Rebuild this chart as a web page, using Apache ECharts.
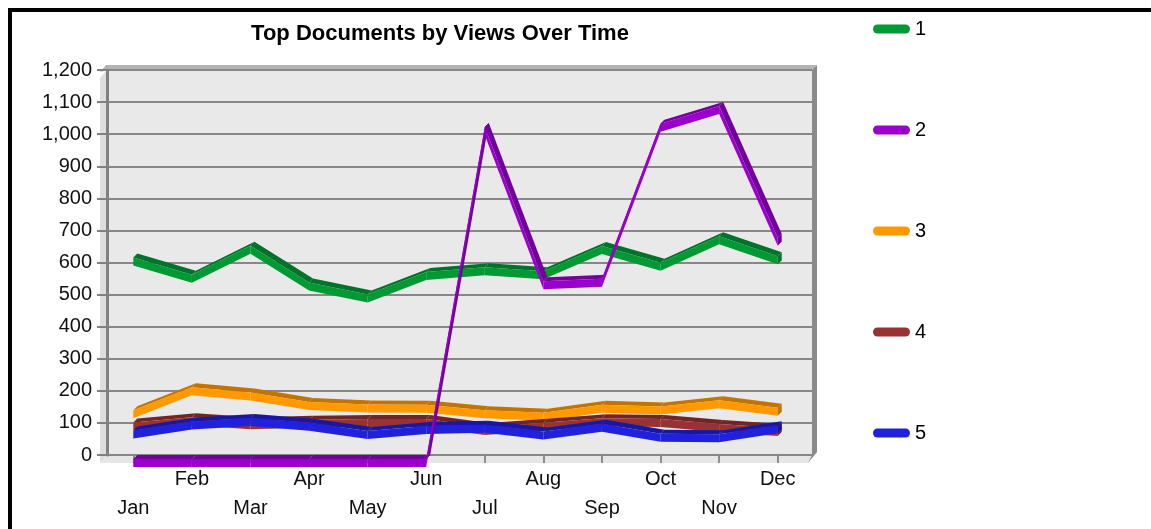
<!DOCTYPE html>
<html>
<head>
<meta charset="utf-8">
<script src="https://cdn.jsdelivr.net/npm/echarts@6/dist/echarts.min.js"></script>
<style>
  html, body { margin: 0; padding: 0; background: #ffffff; }
  #chart { width: 1151px; height: 529px; }
</style>
</head>
<body>
<div id="chart"></div>
<script>
// Monthly views for the five most viewed documents
const months = ['Jan', 'Feb', 'Mar', 'Apr', 'May', 'Jun', 'Jul', 'Aug', 'Sep', 'Oct', 'Nov', 'Dec'];
const doc1 = [628, 574, 665, 550, 513, 583, 598, 585, 664, 612, 694, 632];
const doc2 = [0, 0, 0, 0, 0, 0, 1035, 554, 562, 1045, 1100, 690];
const doc3 = [152, 224, 207, 178, 170, 169, 152, 144, 169, 164, 183, 160];
const doc4 = [114, 130, 118, 122, 125, 125, 100, 113, 127, 125, 109, 97];
const doc5 = [89, 117, 128, 113, 87, 103, 107, 86, 110, 79, 77, 105];
const seriesNames = ['1', '2', '3', '4', '5'];
const yTicks = { min: 0, max: 1200, interval: 100 };

const FONT = '"Liberation Sans", Arial, sans-serif';

// Colours: [front face, top face]
const palette = {
  '1': ['#009933', '#00732a'],
  '2': ['#9900cc', '#72009a'],
  '3': ['#ff9900', '#c27400'],
  '4': ['#993333', '#732525'],
  '5': ['#2020dd', '#1717a3']
};

// 3D ribbon geometry
const HALF = 4;      // half height of the front face
const DEPTH = 4;     // depth offset of the top face (right / up)

// Back wall (gridlines) and front plane (where the ribbons sit)
const back = { left: 107, top: 70, right: 1151 - 812, bottom: 529 - 455 };
const front = { left: 104, top: 78, right: 1151 - 807, bottom: 529 - 463 };

function ribbon(values, name, z) {
  const [faceColor, topColor] = palette[name];
  const n = values.length;
  return {
    name: name,
    type: 'custom',
    xAxisIndex: 1,
    yAxisIndex: 1,
    z: z,
    itemStyle: { color: faceColor },
    data: values.map((v, i) => [i, v]),
    encode: { x: 0, y: 1 },
    renderItem: function (params, api) {
      const i = params.dataIndex;
      const p0 = api.coord([i, values[i]]);
      const children = [];
      if (i < n - 1) {
        const p1 = api.coord([i + 1, values[i + 1]]);
        children.push({
          type: 'polygon',
          shape: { points: [
            [p0[0], p0[1] - HALF], [p1[0], p1[1] - HALF],
            [p1[0] + DEPTH, p1[1] - HALF - DEPTH], [p0[0] + DEPTH, p0[1] - HALF - DEPTH]
          ] },
          style: { fill: topColor }
        });
        children.push({
          type: 'polygon',
          shape: { points: [
            [p0[0], p0[1] - HALF], [p1[0], p1[1] - HALF],
            [p1[0], p1[1] + HALF], [p0[0], p0[1] + HALF]
          ] },
          style: { fill: faceColor }
        });
      } else {
        // end cap on the last month
        children.push({
          type: 'polygon',
          shape: { points: [
            [p0[0], p0[1] - HALF], [p0[0] + DEPTH, p0[1] - HALF - DEPTH],
            [p0[0] + DEPTH, p0[1] + HALF - DEPTH], [p0[0], p0[1] + HALF]
          ] },
          style: { fill: topColor }
        });
      }
      return { type: 'group', children: children };
    }
  };
}

const chart = echarts.init(document.getElementById('chart'), null, { renderer: 'canvas' });

const wallX0 = front.left - 4, wallX1 = back.left;
const floorY0 = 529 - back.bottom, floorY1 = 529 - front.bottom;
const backRight = 1151 - back.right;

chart.setOption({
  backgroundColor: '#ffffff',
  animation: false,
  title: {
    text: 'Top Documents by Views Over Time',
    left: 440,
    top: 23,
    textAlign: 'center',
    padding: 0,
    textStyle: { fontFamily: FONT, fontSize: 22, fontWeight: 'bold', color: '#000000' }
  },
  legend: {
    orient: 'vertical',
    left: 873,
    top: 18,
    padding: 0,
    itemWidth: 37,
    itemHeight: 9,
    itemGap: 79,
    icon: 'path://M4.5,0 L32.5,0 A4.5,4.5 0 0 1 32.5,9 L4.5,9 A4.5,4.5 0 0 1 4.5,0 Z',
    data: seriesNames,
    selectedMode: false,
    textStyle: { fontFamily: FONT, fontSize: 20, lineHeight: 22, color: '#000000' }
  },
  graphic: [
    // black frame
    { type: 'rect', z: 10, shape: { x: 8, y: 8, width: 1151, height: 4 }, style: { fill: '#000000' } },
    { type: 'rect', z: 10, shape: { x: 8, y: 8, width: 4, height: 529 }, style: { fill: '#000000' } },
    // left wall
    { type: 'polygon', z: 0, shape: { points: [[wallX0, 78], [wallX1, back.top], [wallX1, floorY0], [wallX0, floorY1]] },
      style: { fill: '#dedede' } },
    // floor
    { type: 'polygon', z: 0, shape: { points: [[wallX0, floorY1], [wallX1, floorY0], [backRight, floorY0], [1151 - front.right + 1, floorY1]] },
      style: { fill: '#e6e6e6' } },
    // top rim
    { type: 'polygon', z: 0, shape: { points: [[wallX0, 72], [wallX1 - 1, 65], [backRight + 5, 65], [backRight, back.top], [wallX1, back.top]] },
      style: { fill: '#b3b3b3' } },
    // right wall
    { type: 'polygon', z: 0, shape: { points: [[backRight, back.top], [backRight + 5, 65], [backRight + 5, floorY0 - 3], [1151 - front.right + 1, floorY1], [backRight, floorY0]] },
      style: { fill: '#8a8a8a' } }
  ],
  grid: [
    { left: back.left, top: back.top, right: back.right, bottom: back.bottom,
      show: true, backgroundColor: '#e9e9e9', borderWidth: 0 },
    { left: front.left, top: front.top, right: front.right, bottom: front.bottom, show: false }
  ],
  xAxis: [
    { type: 'category', gridIndex: 0, data: months, show: false },
    {
      type: 'category', gridIndex: 1, data: months,
      axisLine: { show: false },
      axisTick: { show: true, inside: true, length: 8, alignWithLabel: true,
                  lineStyle: { color: '#8c8c8c', width: 2 } },
      axisLabel: {
        interval: 0,
        margin: 2,
        verticalAlign: 'top',
        fontFamily: FONT, fontSize: 20, lineHeight: 29, color: '#111111',
        formatter: function (v, idx) { return idx % 2 === 0 ? '\n' + v : v; }
      }
    }
  ],
  yAxis: [
    {
      type: 'value', gridIndex: 0,
      min: yTicks.min, max: yTicks.max, interval: yTicks.interval,
      axisLine: { show: true, lineStyle: { color: '#808080', width: 3 } },
      axisTick: { show: true, length: 10, lineStyle: { color: '#808080', width: 2 } },
      splitLine: { show: true, lineStyle: { color: '#878787', width: 2 } },
      axisLabel: {
        margin: 15,
        fontFamily: FONT, fontSize: 20, color: '#111111',
        formatter: function (v) { return v.toLocaleString('en-US'); }
      }
    },
    {
      type: 'value', gridIndex: 1, show: false,
      min: yTicks.min, max: yTicks.max, interval: yTicks.interval,
      splitLine: { show: false }
    }
  ],
  series: [
    ribbon(doc1, '1', 3),
    ribbon(doc2, '2', 8),
    ribbon(doc3, '3', 4),
    ribbon(doc4, '4', 5),
    ribbon(doc5, '5', 6)
  ]
});
</script>
</body>
</html>
